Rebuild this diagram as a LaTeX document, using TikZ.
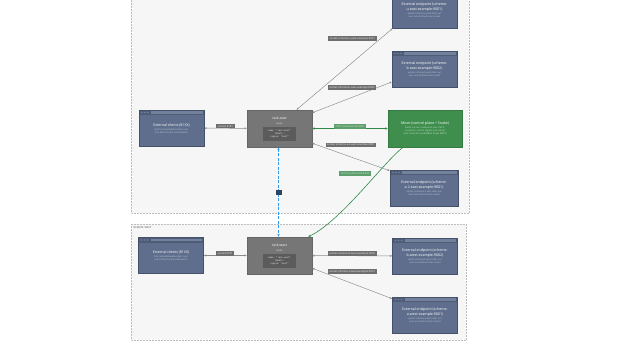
\documentclass[tikz,border=0pt]{standalone}
\usepackage{fontspec}
\setmainfont{Open Sans}
\setmonofont{DejaVu Sans Mono}
\usetikzlibrary{arrows.meta, positioning, shadows}

\definecolor{regionfill}{HTML}{F6F6F6}
\definecolor{regionline}{HTML}{BDBDBD}
\definecolor{slate}{HTML}{5E6E8C}
\definecolor{slateline}{HTML}{45516A}
\definecolor{slatehead}{HTML}{4E5C78}
\definecolor{slatebar}{HTML}{72819C}
\definecolor{slatetext}{HTML}{C3CCDD}
\definecolor{rackfill}{HTML}{767676}
\definecolor{rackline}{HTML}{666666}
\definecolor{rackinner}{HTML}{5B5B5B}
\definecolor{mixerfill}{HTML}{3F8E4E}
\definecolor{mixerline}{HTML}{357A42}
\definecolor{mixertext}{HTML}{CFE6D3}
\definecolor{wire}{HTML}{8A8A8A}
\definecolor{greenwire}{HTML}{2E8B45}
\definecolor{bluewire}{HTML}{2F9BF0}
\definecolor{tagfill}{HTML}{6E6E6E}
\definecolor{greentag}{HTML}{5E9E6C}
\definecolor{navytag}{HTML}{2C4560}

\newcommand{\boxtitle}{\fontsize{3.6}{4.6}\selectfont\color{white}}
\newcommand{\boxnote}{\fontsize{2.3}{2.9}\selectfont\color{slatetext}}
\newcommand{\mixnote}{\fontsize{2.3}{2.9}\selectfont\color{mixertext}}

\begin{document}
\begin{tikzpicture}[x=1pt, y=-1pt,
    region/.style={fill=regionfill, draw=regionline, densely dotted, line width=0.5pt},
    regiontitle/.style={font=\fontsize{2.6}{3}\selectfont, text=black!70, inner sep=0.5pt},
    winbox/.style={rectangle, fill=slate, draw=slateline, line width=0.6pt,
        minimum width=65pt, minimum height=36pt, text width=55pt, align=center,
        font=\fontsize{2.3}{2.9}\selectfont, inner ysep=1pt,
        drop shadow={opacity=0.25, shadow xshift=0.6pt, shadow yshift=-0.8pt},
        path picture={
            \fill[slatehead] (path picture bounding box.north west) rectangle ([yshift=-5pt]path picture bounding box.north east);
            \foreach \d in {3,6,9}
                \fill[slatebar] ([xshift=\d pt, yshift=-2.5pt]path picture bounding box.north west) circle (0.9pt);
            \fill[slatebar] ([xshift=12pt, yshift=-1.3pt]path picture bounding box.north west) rectangle ([xshift=-1.5pt, yshift=-3.7pt]path picture bounding box.north east);
        }},
    rackbox/.style={rectangle, fill=rackfill, draw=rackline, line width=0.5pt,
        minimum width=65pt, minimum height=37pt,
        drop shadow={opacity=0.25, shadow xshift=0.6pt, shadow yshift=-0.8pt}},
    racktitle/.style={font=\fontsize{3.4}{4}\selectfont, text=white, inner sep=0.5pt},
    racksub/.style={font=\fontsize{2.4}{3}\selectfont, text=white!80!gray, inner sep=0.5pt},
    rackspec/.style={fill=rackinner, minimum width=33pt, minimum height=14pt, align=center,
        font=\ttfamily\fontsize{2.2}{3}\selectfont, text=white!85!gray, inner sep=0.5pt},
    mixerbox/.style={rectangle, fill=mixerfill, draw=mixerline, line width=0.5pt,
        minimum width=74pt, minimum height=37pt, text width=58pt, align=center,
        font=\fontsize{2.3}{2.9}\selectfont,
        drop shadow={opacity=0.25, shadow xshift=0.6pt, shadow yshift=-0.8pt}},
    wire/.style={draw=wire, line width=0.45pt, {Stealth[length=2.4pt,width=2pt]}-{Stealth[length=2.4pt,width=2pt]}},
    greenlink/.style={draw=greenwire, line width=0.6pt, {Stealth[length=2.6pt,width=2.2pt]}-{Stealth[length=2.6pt,width=2.2pt]}},
    bluelink/.style={draw=bluewire, line width=1pt, dash pattern=on 3pt off 1.5pt, {Stealth[length=2.6pt,width=2.2pt]}-{Stealth[length=2.6pt,width=2.2pt]}},
    tag/.style={fill=tagfill, text=white!85!gray, font=\fontsize{2.7}{3.1}\selectfont, inner xsep=1.6pt, inner ysep=1pt},
    greentagged/.style={tag, fill=greentag, text=mixertext},
    navytagged/.style={tag, fill=navytag, text=white!80!cyan, minimum width=6pt, minimum height=5pt}]

    \useasboundingbox (0,0) rectangle (640,360);
    \clip (0,0) rectangle (640,360);

    % regions
    \draw[region] (131,-5) rectangle (469,213);
    \draw[region] (131,224) rectangle (466,340);
    \node[regiontitle, anchor=west] (west-title) at (133,228) {REGION: WEST};

    % east side
    \node[winbox] (clients-east) at (171.5,128) {\\[0.5pt]{\boxtitle External clients (81XX)}\\[1pt]{\boxnote Dial terminals/websockets over one bidirectional socket/watch}};
    \node[rackbox] (rack-east) at (279.5,128.5) {};
    \node[racktitle] (rack-east-title) at (279.5,118) {rack-east};
    \node[racksub] (rack-east-kind) at (279.5,124) {Node};
    \node[rackspec] (rack-east-spec) at (279.5,134) {name: "rack-east"\\labels:\\region: "east"};
    \node[mixerbox] (mixer) at (425,128.5) {{\boxtitle Mixer (control plane + Snake)}\\[1.5pt]{\mixnote Racks connect outbound over mTLS; scenarios, control signals and virtual clock travel the embedded Snake (RAFT)}};
    \node[winbox] (ep-east-u) at (424.5,10) {\\[0.5pt]{\boxtitle External endpoint (scheme-u.east.example:9001)}\\[1pt]{\boxnote uplink scheme-u.east dials out over one bidirectional socket}};
    \node[winbox] (ep-east-b) at (424.5,69) {\\[0.5pt]{\boxtitle External endpoint (scheme-b.east.example:9002)}\\[1pt]{\boxnote uplink scheme-b.east dials out over one bidirectional socket}};
    \node[winbox, minimum width=68pt] (ep-east-a) at (424,188) {\\[0.5pt]{\boxtitle External endpoint (scheme-a-2.east.example:9001)}\\[1pt]{\boxnote uplink scheme-a-2.east dials out over one bidirectional socket}};

    % west side
    \node[winbox] (clients-west) at (171,255.5) {\\[0.5pt]{\boxtitle External clients (81XX)}\\[1pt]{\boxnote Dial terminals/websockets over one bidirectional socket/watch}};
    \node[rackbox] (rack-west) at (279.5,255.5) {};
    \node[racktitle] (rack-west-title) at (279.5,245) {rack-west};
    \node[racksub] (rack-west-kind) at (279.5,251) {Node};
    \node[rackspec] (rack-west-spec) at (279.5,261) {name: "rack-west"\\labels:\\region: "west"};
    \node[winbox] (ep-west-b) at (425,256) {\\[0.5pt]{\boxtitle External endpoint (scheme-b.west.example:9002)}\\[1pt]{\boxnote uplink scheme-b.west dials out over one bidirectional socket}};
    \node[winbox] (ep-west-a) at (425,315) {\\[0.5pt]{\boxtitle External endpoint (scheme-a.west.example:9001)}\\[1pt]{\boxnote uplink scheme-a.west dials out over one bidirectional socket}};

    % east connectors
    \draw[wire] (clients-east) -- node[tag, yshift=2pt] (tag-east-clients) {socket 8181} (rack-east);
    \draw[wire] ([xshift=17pt]rack-east.north) -- node[tag, pos=0.58, yshift=24pt] (tag-east-u) {socket scheme-u.east.example:9001} ([xshift=1pt]ep-east-u.south west);
    \draw[wire] ([yshift=-3pt]rack-east.north east) -- node[tag, pos=0.5, yshift=10pt] (tag-east-b) {socket scheme-b.east.example:9002} ([yshift=-13pt]ep-east-b.west);
    \draw[greenlink] (rack-east) -- node[greentagged, pos=0.5, yshift=2pt] (tag-mixer) {mTLS (outbound) 8443} (mixer);
    \draw[wire] ([yshift=4pt]rack-east.south east) -- node[tag, pos=0.5, yshift=12pt] (tag-east-a) {socket scheme-a-2.east.example:9001} ([yshift=-1pt]ep-east-a.north west);

    % cross-region links
    \draw[draw=greenwire, line width=0.6pt, -{Stealth[length=2.6pt,width=2.2pt]}] ([xshift=-22pt]mixer.south) .. controls (383,163) and (341,221) .. node[greentagged, pos=0.33, xshift=-22pt] (tag-mixer-west) {mTLS (outbound) 8443} ([xshift=-4pt]rack-west.north east);
    \draw[bluelink] ([xshift=-1pt]rack-east.south) -- node[navytagged] (tag-wan) {} ([xshift=-1pt]rack-west.north);

    % west connectors
    \draw[wire] (clients-west) -- node[tag, yshift=2pt] (tag-west-clients) {socket 8181} (rack-west);
    \draw[wire] (rack-west) -- node[tag, yshift=2pt] (tag-west-b) {socket scheme-b.west.example:9002} (ep-west-b);
    \draw[wire] ([yshift=6pt]rack-west.south east) -- node[tag, pos=0.5, yshift=12pt] (tag-west-a) {socket scheme-a.west.example:9001} ([yshift=-2pt]ep-west-a.north west);
\end{tikzpicture}
\end{document}
